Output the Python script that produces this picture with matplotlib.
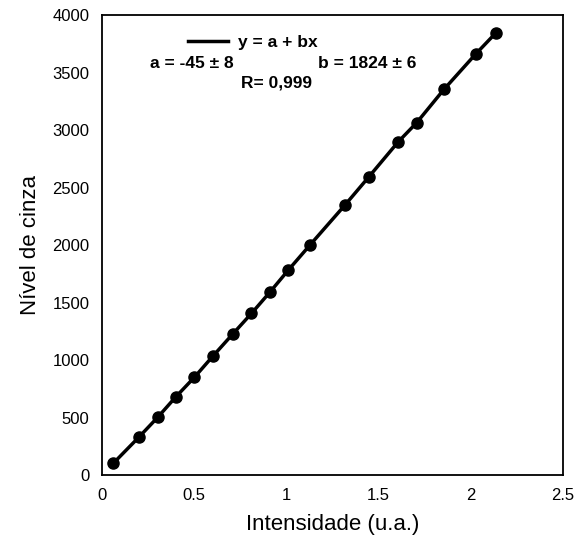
# Curva de calibracao: nivel de cinza x intensidade
import matplotlib.pyplot as plt

plt.rcParams['font.family'] = ['Liberation Sans', 'DejaVu Sans']

# Dados
intensidade = [0.061, 0.202, 0.302, 0.401, 0.501, 0.602, 0.709, 0.811, 0.911,
               1.011, 1.128, 1.318, 1.448, 1.607, 1.707, 1.855, 2.027, 2.137]
nivel_cinza = [102, 333, 502, 681, 850, 1035, 1226, 1406, 1591,
               1783, 2000, 2348, 2594, 2898, 3064, 3354, 3661, 3846]

# Parametros do ajuste
texto_a = "a = -45 ± 8"
texto_b = "b = 1824 ± 6"
texto_r = "R= 0,999"

fig = plt.figure(figsize=[5.76, 5.43], dpi=100)
ax = fig.add_axes([0.177, 0.125, 0.8, 0.847])

ax.plot(intensidade, nivel_cinza, "-", color="black", linewidth=2.5,
        label="y = a + bx")
ax.plot(intensidade, nivel_cinza, "o", color="black", markersize=8)

ax.set_xlim(0, 2.5)
ax.set_ylim(0, 4000)
ax.set_xticks([0, 0.5, 1, 1.5, 2, 2.5])
ax.set_xticklabels(["0", "0.5", "1", "1.5", "2", "2.5"])
ax.set_yticks(range(0, 4001, 500))
ax.tick_params(length=0, labelsize=12, pad=9)
for s in ax.spines.values():
    s.set_linewidth(1.3)

ax.set_xlabel("Intensidade (u.a.)", size=16, labelpad=8)
ax.set_ylabel("Nível de cinza", size=16, labelpad=8)

# Legenda
leg = ax.legend(loc="center left", bbox_to_anchor=(0.152, 0.941), frameon=False,
                handlelength=2.3, handletextpad=0.6,
                prop={"weight": "bold", "size": 12.5})

ax.text(0.104, 0.896, texto_a, transform=ax.transAxes, fontsize=12.5,
        fontweight="bold", ha="left", va="center")
ax.text(0.469, 0.896, texto_b, transform=ax.transAxes, fontsize=12.5,
        fontweight="bold", ha="left", va="center")
ax.text(0.379, 0.852, texto_r, transform=ax.transAxes, fontsize=12.5,
        fontweight="bold", ha="center", va="center")

plt.savefig("out.png")
